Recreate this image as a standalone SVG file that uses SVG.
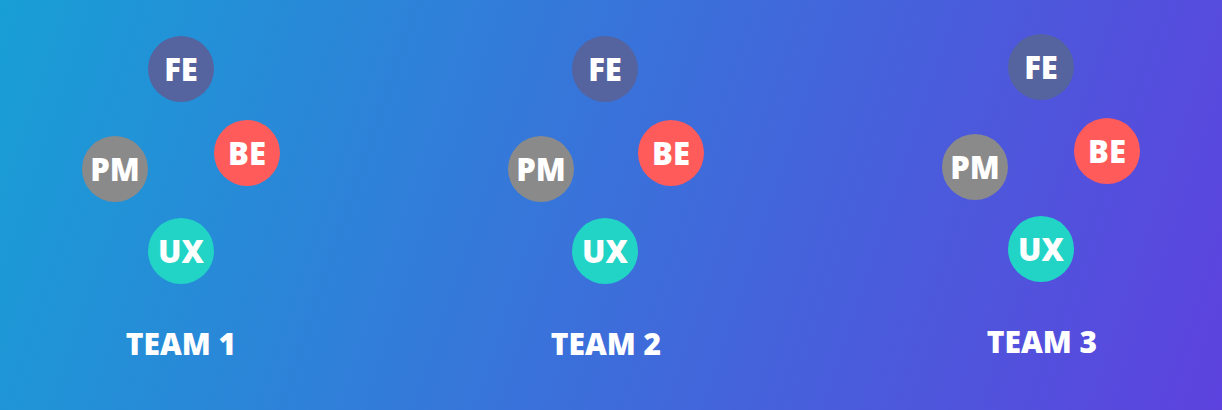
<svg xmlns="http://www.w3.org/2000/svg" width="1222" height="410" viewBox="0 0 1222 410">
<defs>
<linearGradient id="bg" gradientUnits="userSpaceOnUse" x1="0" y1="0" x2="1222" y2="410">
<stop offset="0" stop-color="#189fd6"/>
<stop offset="1" stop-color="#5d42de"/>
</linearGradient>
<style>
.lbl{font-family:"Open Sans","Liberation Sans",sans-serif;font-weight:800;fill:#ffffff;text-anchor:middle}
.node text{font-size:31px}
.team{font-size:30px}
.fe{fill:#55639f}
.be{fill:#ff5b5b}
.pm{fill:#8a8a8a}
.ux{fill:#21d4c6}
</style>
</defs>
<rect width="1222" height="410" fill="url(#bg)"/>
<g id="connectors"/>
<g id="team1">
<g id="t1-fe" class="node"><circle class="fe" cx="181" cy="69" r="33"/><text class="lbl" x="181" y="81">FE</text></g>
<g id="t1-be" class="node"><circle class="be" cx="247" cy="153" r="33"/><text class="lbl" x="247" y="165">BE</text></g>
<g id="t1-pm" class="node"><circle class="pm" cx="115" cy="169" r="33"/><text class="lbl" x="115" y="181">PM</text></g>
<g id="t1-ux" class="node"><circle class="ux" cx="181" cy="251" r="33"/><text class="lbl" x="181" y="263">UX</text></g>
<text id="t1-label" class="lbl team" x="181" y="355">TEAM 1</text>
</g>
<g id="team2">
<g id="t2-fe" class="node"><circle class="fe" cx="605" cy="69" r="33"/><text class="lbl" x="605" y="81">FE</text></g>
<g id="t2-be" class="node"><circle class="be" cx="671" cy="153" r="33"/><text class="lbl" x="671" y="165">BE</text></g>
<g id="t2-pm" class="node"><circle class="pm" cx="541" cy="169" r="33"/><text class="lbl" x="541" y="181">PM</text></g>
<g id="t2-ux" class="node"><circle class="ux" cx="605" cy="251" r="33"/><text class="lbl" x="605" y="263">UX</text></g>
<text id="t2-label" class="lbl team" x="606" y="355">TEAM 2</text>
</g>
<g id="team3">
<g id="t3-fe" class="node"><circle class="fe" cx="1041" cy="67" r="33"/><text class="lbl" x="1041" y="79">FE</text></g>
<g id="t3-be" class="node"><circle class="be" cx="1107" cy="151" r="33"/><text class="lbl" x="1107" y="163">BE</text></g>
<g id="t3-pm" class="node"><circle class="pm" cx="975" cy="167" r="33"/><text class="lbl" x="975" y="179">PM</text></g>
<g id="t3-ux" class="node"><circle class="ux" cx="1041" cy="249" r="33"/><text class="lbl" x="1041" y="261">UX</text></g>
<text id="t3-label" class="lbl team" x="1042" y="353">TEAM 3</text>
</g>
</svg>
